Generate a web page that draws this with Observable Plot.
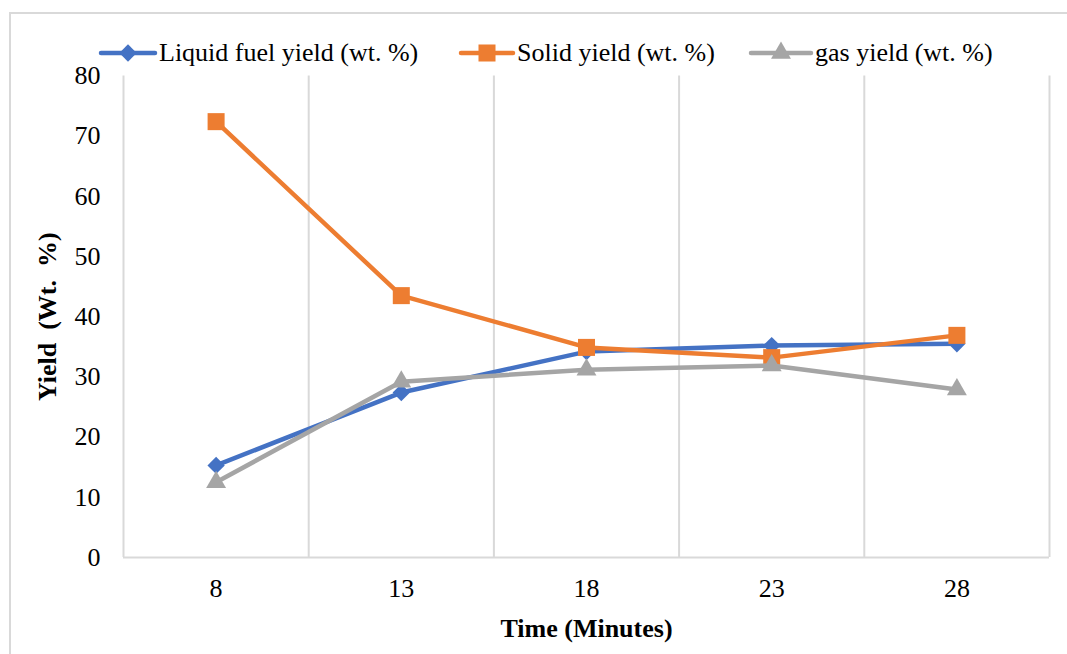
<!DOCTYPE html>
<html>
<head>
<meta charset="utf-8">
<script src="https://cdn.jsdelivr.net/npm/d3@7"></script>
<script src="https://cdn.jsdelivr.net/npm/@observablehq/plot@0.6"></script>
<style>
  html, body { margin: 0; padding: 0; background: #fff; }
  body { width: 1067px; height: 654px; overflow: hidden; position: relative; font-family: "Liberation Serif", "Times New Roman", serif; }
  #frame { position: absolute; left: 9px; top: 12px; width: 1100px; height: 700px; border-top: 2px solid #d9d9d9; border-left: 2px solid #d9d9d9; }
  #legend { position: relative; height: 65px; }
  .item { position: absolute; top: 38px; height: 30px; display: flex; align-items: center; font-size: 26px; color: #000; white-space: pre; }
  .item svg { display: block; margin-right: 1px; }
  #chart { position: relative; }
</style>
</head>
<body>
<div id="frame"></div>
<div id="legend"></div>
<div id="chart"></div>
<script>
const times = [8, 13, 18, 23, 28];
const liquid = [15.3, 27.4, 34.2, 35.2, 35.5];
const solid = [72.4, 43.5, 34.9, 33.2, 36.9];
const gas = [12.5, 29.2, 31.2, 31.9, 27.9];
const seriesNames = ["Liquid fuel yield (wt. %)", "Solid yield (wt. %)", "gas yield (wt. %)"];
const colors = ["#4472C4", "#ED7D31", "#A5A5A5"];
const symbols = ["diamond2", "square", "triangle"];
const radii = [7.8, 9.6, 7.4];
const yTicks = [0, 10, 20, 30, 40, 50, 60, 70, 80];

const seriesValues = [liquid, solid, gas];
const rows = [];
seriesNames.forEach((name, i) => {
  times.forEach((t, j) => rows.push({series: name, idx: i, time: t, value: seriesValues[i][j]}));
});
const step = times[1] - times[0];
const bounds = [times[0] - step / 2, ...times.map(t => t + step / 2)];

const marks = [
  Plot.ruleX(bounds, {stroke: "#d9d9d9", strokeWidth: 2}),
  Plot.ruleY([0], {stroke: "#d9d9d9", strokeWidth: 2}),
  Plot.axisY({ticks: yTicks, tickSize: 0, tickPadding: 23, label: null, fontSize: 26}),
  Plot.axisX({ticks: times, tickSize: 0, tickPadding: 21, label: null, fontSize: 26}),
  Plot.text(["Time (Minutes)"], {frameAnchor: "bottom", dy: 71, fontWeight: "bold", fontSize: 26, textAnchor: "middle", lineAnchor: "middle"}),
  Plot.text(["Yield\u00a0 (Wt.\u00a0 %)"], {frameAnchor: "left", dx: -76, rotate: -90, fontWeight: "bold", fontSize: 26, textAnchor: "middle", lineAnchor: "middle"})
];
seriesNames.forEach((name, i) => {
  const data = rows.filter(r => r.idx === i);
  marks.push(Plot.line(data, {x: "time", y: "value", stroke: colors[i], strokeWidth: 4.5, strokeLinejoin: "round", strokeLinecap: "round"}));
  marks.push(Plot.dot(data, {x: "time", y: "value", symbol: () => symbols[i], r: radii[i], fill: colors[i], stroke: "none"}));
});

const chart = Plot.plot({
  width: 1067,
  height: 589,
  marginLeft: 123,
  marginRight: 18,
  marginTop: 10.4,
  marginBottom: 97,
  style: {fontFamily: "'Liberation Serif', 'Times New Roman', serif", fontSize: "26px", color: "#000", background: "transparent", overflow: "visible"},
  x: {type: "linear", domain: [bounds[0], bounds[bounds.length - 1]]},
  y: {domain: [0, 80]},
  symbol: {type: "identity"},
  marks
});
document.getElementById("chart").appendChild(chart);

// legend
const legend = document.getElementById("legend");
const lefts = [98, 458, 748];
const swatchW = [60, 58, 66];
seriesNames.forEach((name, i) => {
  const div = document.createElement("div");
  div.className = "item";
  div.style.left = lefts[i] + "px";
  const sym = d3.symbol(i === 0 ? d3.symbolDiamond2 : i === 1 ? d3.symbolSquare : d3.symbolTriangle, Math.PI * radii[i] * radii[i])();
  const w = swatchW[i];
  div.innerHTML = `<svg width="${w}" height="30"><line x1="3" x2="${w - 3}" y1="15" y2="15" stroke="${colors[i]}" stroke-width="4.5" stroke-linecap="round"/><path d="${sym}" transform="translate(${w / 2},15)" fill="${colors[i]}"/></svg>`;
  const span = document.createElement("span");
  span.textContent = name;
  div.appendChild(span);
  legend.appendChild(div);
});
</script>
</body>
</html>
